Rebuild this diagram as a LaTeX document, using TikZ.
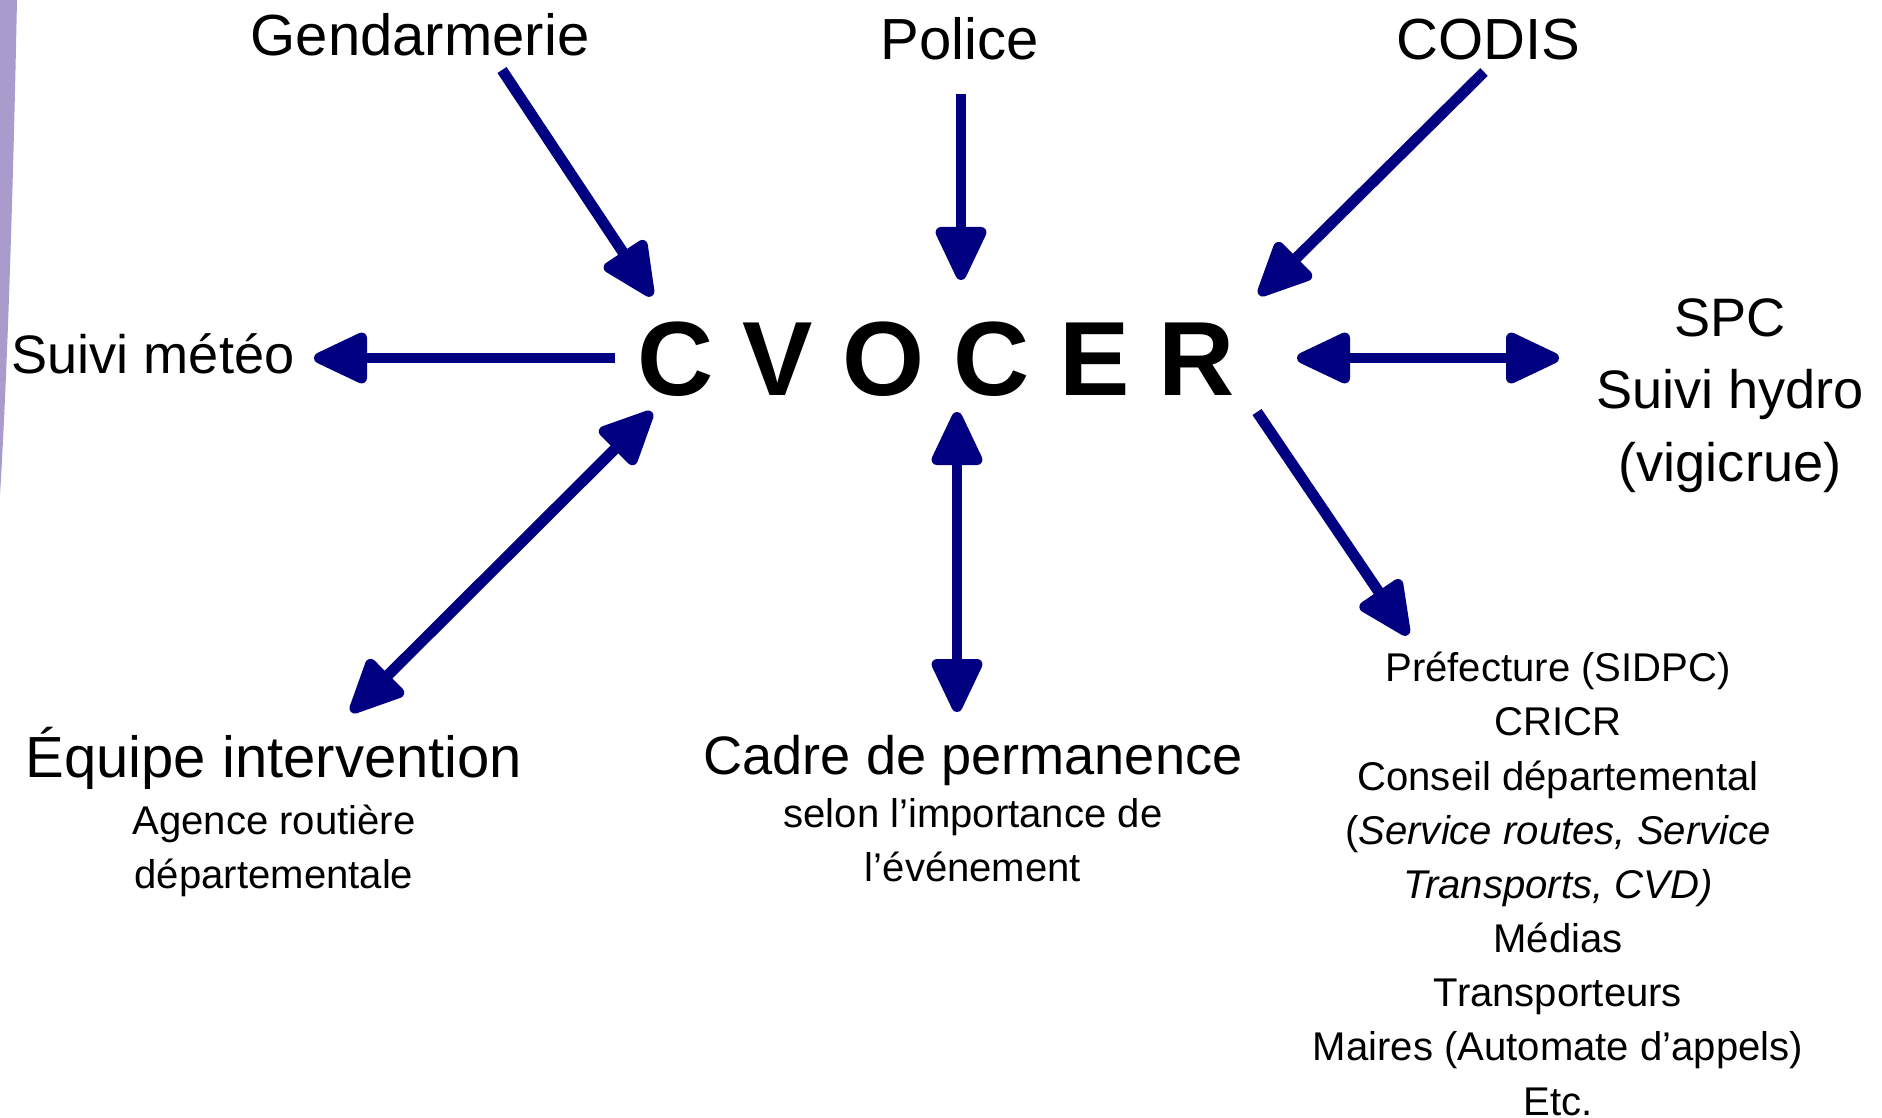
\documentclass[tikz,border=0pt]{standalone}
\usepackage{fontspec}
\setmainfont{Liberation Sans}
\usepackage{xcolor}
\usetikzlibrary{arrows.meta}
\definecolor{navyarrow}{HTML}{000080}
\definecolor{lavender}{HTML}{A99BCB}
\tikzstyle{centre} = [
    font=\fontsize{30pt}{34pt}\selectfont\bfseries,
    inner sep=0pt, anchor=base]
\tikzstyle{partner} = [
    font=\fontsize{16.5pt}{20pt}\selectfont,
    inner sep=0pt, anchor=base, align=center]
\tikzstyle{partnermid} = [
    font=\fontsize{15.4pt}{20.5pt}\selectfont,
    inner sep=0pt, anchor=base, align=center]
\tikzstyle{detail} = [
    font=\fontsize{11.4pt}{15.1pt}\selectfont,
    inner sep=0pt, anchor=base, align=center]
\tikzstyle{liste} = [detail, font=\fontsize{11.4pt}{15.4pt}\selectfont]
\tikzstyle{arrow} = [line width=3.1pt, draw=navyarrow, fill=navyarrow,
    -{Triangle[length=6.1mm, width=5.4mm, round]}]
\tikzstyle{dblarrow} = [arrow,
    {Triangle[length=6.1mm, width=5.4mm, round]}-{Triangle[length=6.1mm, width=5.4mm, round]}]

\begin{document}
\begin{tikzpicture}[x=0.01cm, y=-0.01cm]
        \useasboundingbox (0,0) rectangle (1882,1117);

        % bord gauche
        \fill [lavender] (0,0) -- (17,0) .. controls (13,200) and (7,380) .. (0,495) -- cycle;

        \node (cvocer) [centre] at (936,395) {C V O C E R};

        \node (gend) [partner] at (420,55) {Gendarmerie};
        \node (police) [partner] at (960,59) {Police};
        \node (codis) [partner] at (1488,59) {CODIS};

        \node (meteo) [partnermid] at (153,373) {Suivi météo};
        % base = derniere ligne
        \node (spc) [partnermid] at (1730,481) {SPC\\Suivi hydro\\(vigicrue)};

        \node (equipe) [partner] at (274,777) {Équipe intervention};
        \node (agence) [detail] at (274,888) {Agence routière\\départementale};

        \node (cadre) [partnermid] at (973,774) {Cadre de permanence};
        \node (selon) [detail] at (973,881) {selon l’importance de\\l’événement};

        \node (prefecture) [liste] at (1558,1115) {Préfecture (SIDPC)\\CRICR\\Conseil départemental\\(\textit{Service routes, Service}\\\textit{Transports, CVD)}\\Médias\\Transporteurs\\Maires (Automate d’appels)\\Etc.};

        % extremites des fleches
        \coordinate (gend-a) at (502,70);
        \coordinate (gend-b) at (652,296);
        \coordinate (police-a) at (961,94);
        \coordinate (police-b) at (961,280);
        \coordinate (codis-a) at (1484,72);
        \coordinate (codis-b) at (1259,295);
        \coordinate (meteo-a) at (615,358);
        \coordinate (meteo-b) at (314,358);
        \coordinate (spc-a) at (1297,358);
        \coordinate (spc-b) at (1559,358);
        \coordinate (equipe-a) at (652,412);
        \coordinate (equipe-b) at (351,712);
        \coordinate (cadre-a) at (957,412);
        \coordinate (cadre-b) at (957,712);
        \coordinate (pref-a) at (1257,412);
        \coordinate (pref-b) at (1408,635);

        \draw [arrow] (gend-a) -- (gend-b);
        \draw [arrow] (police-a) -- (police-b);
        \draw [arrow] (codis-a) -- (codis-b);
        \draw [arrow] (meteo-a) -- (meteo-b);
        \draw [arrow] (pref-a) -- (pref-b);

        \draw [dblarrow] (spc-a) -- (spc-b);
        \draw [dblarrow] (equipe-a) -- (equipe-b);
        \draw [dblarrow] (cadre-a) -- (cadre-b);
    \end{tikzpicture}
\end{document}
